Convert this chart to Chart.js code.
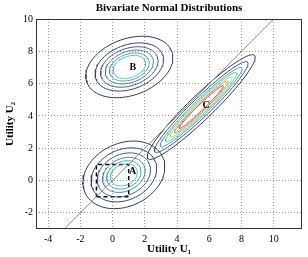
<!DOCTYPE html>
<html>
<head>
<meta charset="utf-8">
<style>
html, body { margin: 0; padding: 0; background: #fff; }
</style>
<script src="https://cdn.jsdelivr.net/npm/chart.js@4.4.0/dist/chart.umd.min.js"></script>
</head>
<body>
<canvas id="myChart" width="308" height="257"></canvas>
<script>
const chartTitle = 'Bivariate Normal Distributions';
const xTicks = [-4, -2, 0, 2, 4, 6, 8, 10];
const yTicks = [-2, 0, 2, 4, 6, 8, 10];

// contour groups: centre, tilt (deg), ring semi-axes, ring colours
const groupNames = ['A', 'B', 'C'];
const labelX = [1.25, 1.25, 5.8];
const labelY = [0.55, 7.0, 4.65];
const centreX = [0.7, 1.04, 5.5];
const centreY = [0.35, 7.03, 4.55];
const tilt = [25, 20, 44];
const ringsA = [[2.65, 1.95], [2.12, 1.56], [1.72, 1.27], [1.38, 1.01], [1.11, 0.82], [0.87, 0.64]];
const ringsB = [[2.8, 1.75], [2.2, 1.37], [1.85, 1.15], [1.55, 0.96], [1.28, 0.8], [1.05, 0.66]];
const ringsC = [[4.6, 0.75], [4.0, 0.58], [3.5, 0.46], [3.05, 0.38], [2.65, 0.31], [2.3, 0.25], [1.9, 0.18]];
const coloursAB = ['#34345e', '#383e78', '#40588e', '#5078a6', '#52a0b2', '#4cc6c8'];
const coloursC = ['#34345e', '#3a55a0', '#48a4ae', '#60c8a8', '#aed080', '#c49460', '#c44848'];

const diagonal = [{x: -3, y: -3}, {x: 10, y: 10}];
const boxX = [-1, 1, 1, -1, -1];
const boxY = [-1, -1, 1, 1, -1];

function ellipse(cx, cy, a, b, deg) {
    const t = deg * Math.PI / 180;
    const pts = [];
    for (let i = 0; i <= 90; i++) {
        const u = i / 90 * 2 * Math.PI;
        const ex = a * Math.cos(u), ey = b * Math.sin(u);
        pts.push({x: cx + ex * Math.cos(t) - ey * Math.sin(t), y: cy + ex * Math.sin(t) + ey * Math.cos(t)});
    }
    return pts;
}

const datasets = [{
    data: diagonal, showLine: true, borderColor: '#8a8a8a', borderWidth: 1, pointRadius: 0
}];
[ringsA, ringsB, ringsC].forEach((rings, g) => {
    const cols = g === 2 ? coloursC : coloursAB;
    rings.forEach((r, i) => {
        datasets.push({
            data: ellipse(centreX[g], centreY[g], r[0], r[1], tilt[g]),
            showLine: true, borderColor: cols[i], borderWidth: 1, pointRadius: 0, tension: 0
        });
    });
});
datasets.push({
    data: boxX.map((v, i) => ({x: v, y: boxY[i]})),
    showLine: true, borderColor: '#000', borderWidth: 1.5, borderDash: [4, 3], pointRadius: 0
});

const decor = {
    id: 'decor',
    afterDatasetsDraw(chart) {
        const {ctx, chartArea: a, scales: {x, y}} = chart;
        ctx.save();
        ctx.strokeStyle = '#333';
        ctx.lineWidth = 1;
        ctx.strokeRect(a.left + 0.5, a.top + 0.5, a.right - a.left - 1, a.bottom - a.top - 1);
        ctx.fillStyle = '#000';
        ctx.textAlign = 'center';
        ctx.textBaseline = 'middle';
        ctx.font = 'bold 11px "Liberation Serif"';
        ctx.fillText(chartTitle, (a.left + a.right) / 2, 8);
        ctx.font = 'bold 10px "Liberation Serif"';
        groupNames.forEach((n, i) => {
            ctx.fillText(n, x.getPixelForValue(labelX[i]), y.getPixelForValue(labelY[i]));
        });
        ctx.restore();
    }
};

const tickFont = {family: 'Liberation Serif', size: 10};
const titleFont = {family: 'Liberation Serif', size: 11, weight: 'bold'};

new Chart(document.getElementById('myChart'), {
    type: 'scatter',
    data: {datasets: datasets},
    options: {
        responsive: false,
        animation: false,
        devicePixelRatio: 1,
        layout: {padding: {top: 19, right: 6, left: 0, bottom: 0}},
        plugins: {legend: {display: false}, tooltip: {enabled: false}},
        scales: {
            x: {
                type: 'linear', min: -4.75, max: 11.75,
                afterBuildTicks: s => { s.ticks = xTicks.map(v => ({value: v})); },
                afterFit: s => { s.height = 28; },
                grid: {color: '#999', lineWidth: 1, drawTicks: false},
                border: {display: false, dash: [1, 2]},
                ticks: {font: tickFont, color: '#000', padding: 4, maxRotation: 0},
                title: {display: true, text: 'Utility U\u2081', font: titleFont, color: '#000', padding: {top: 0, bottom: 1}}
            },
            y: {
                type: 'linear', min: -3, max: 10,
                afterBuildTicks: s => { s.ticks = yTicks.map(v => ({value: v})); },
                afterFit: s => { s.width = 36; },
                grid: {color: '#999', lineWidth: 1, drawTicks: false},
                border: {display: false, dash: [1, 2]},
                ticks: {font: tickFont, color: '#000', padding: 3},
                title: {display: true, text: 'Utility U\u2082', font: titleFont, color: '#000', padding: {top: 4, bottom: 0}}
            }
        }
    },
    plugins: [decor]
});
</script>
</body>
</html>
